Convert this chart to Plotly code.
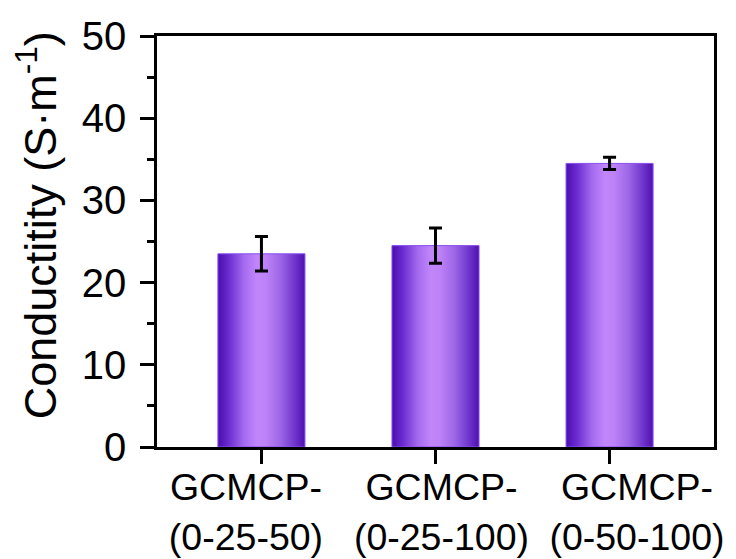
import plotly.graph_objects as go

categories_line1 = ["GCMCP-", "GCMCP-", "GCMCP-"]
categories_line2 = ["(0-25-50)", "(0-25-100)", "(0-50-100)"]
values = [23.5, 24.5, 34.5]
errors = [2.1, 2.15, 0.75]
y_ticks = [0, 10, 20, 30, 40, 50]
y_title = "Conductitity (S·m<sup>-1</sup>)"

bar_width = 0.5
font_family = "Arial, Liberation Sans, sans-serif"
grad = [[0.0, "#4A0DAE"], [0.12, "#6A2AD0"], [0.3, "#A56BEF"], [0.45, "#C286FB"],
        [0.55, "#BE82F8"], [0.72, "#9C66E6"], [0.88, "#7036CC"], [1.0, "#4F10B0"]]

fig = go.Figure()
positions = list(range(len(values)))
for i, v in zip(positions, values):
    x0, x1 = i - bar_width / 2, i + bar_width / 2
    fig.add_trace(go.Scatter(
        x=[x0, x0, x1, x1, x0], y=[0, v, v, 0, 0],
        mode="lines", fill="toself",
        line=dict(color="#8A4DF0", width=1),
        fillgradient=dict(type="horizontal", colorscale=grad),
        hoverinfo="skip", showlegend=False,
    ))

fig.add_trace(go.Scatter(
    x=positions, y=values, mode="markers",
    marker=dict(size=1, opacity=0),
    error_y=dict(type="data", array=errors, visible=True, color="black",
                 thickness=3, width=6.5),
    showlegend=False, hoverinfo="skip",
))
# invisible anchors so the label axes are drawn
for ax in ("x2", "x3"):
    fig.add_trace(go.Scatter(x=positions, y=values, mode="markers",
                             marker=dict(size=1, opacity=0), xaxis=ax,
                             showlegend=False, hoverinfo="skip"))

bar_range = [-0.6, len(values) - 0.4]
label_range = [-0.455, 2.394]  # the reference's labels sit slightly spread from the ticks
label_common = dict(range=label_range, tickvals=positions, automargin=False,
                    overlaying="x", side="bottom", ticks="", showline=False,
                    showgrid=False, zeroline=False,
                    tickfont=dict(size=37.5, family=font_family))
fig.update_layout(
    width=728, height=551,
    margin=dict(l=149, r=22, t=28, b=112),
    paper_bgcolor="white", plot_bgcolor="white",
    font=dict(family=font_family, color="black"),
    xaxis=dict(range=bar_range, tickvals=positions, automargin=False,
               showticklabels=False,
               ticks="outside", ticklen=14, tickwidth=2.5, tickcolor="black",
               showline=True, linewidth=2.5, linecolor="black", mirror=True,
               showgrid=False, zeroline=False),
    xaxis2=dict(**label_common, ticktext=categories_line1, ticklabelstandoff=14),
    xaxis3=dict(**label_common, ticktext=categories_line2, ticklabelstandoff=64),
    yaxis=dict(range=[0, 50], tickvals=y_ticks, automargin=False,
               ticks="outside", ticklen=14, tickwidth=2.5, tickcolor="black",
               minor=dict(dtick=5, ticks="outside", ticklen=7, tickwidth=2.5, tickcolor="black"),
               showline=True, linewidth=2.5, linecolor="black", mirror=True,
               showgrid=False, zeroline=False,
               ticklabelstandoff=6,
               tickfont=dict(size=40, family=font_family)),
    annotations=[dict(text=y_title, textangle=-90, xref="paper", yref="paper",
                      x=-0.215, y=0.54, xanchor="center", yanchor="middle",
                      showarrow=False, font=dict(size=45, family=font_family))],
)

fig.write_html("out.html")
